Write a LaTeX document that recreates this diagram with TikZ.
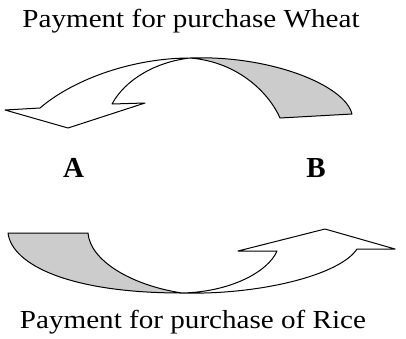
\documentclass[tikz,border=0pt]{standalone}
\usepackage{fontspec}
\setmainfont{Liberation Serif}
\newfontfamily\widefont[FakeStretch=1.12]{Liberation Serif}
\begin{document}
\begin{tikzpicture}[x=1pt,y=-1pt,
  ribbon/.style={draw=black,line width=1pt,line join=round},
  caption/.style={anchor=base,inner sep=0pt,font=\widefont\fontsize{26}{30}\selectfont},
  party/.style={anchor=base,inner sep=0pt,font=\bfseries\fontsize{29}{32}\selectfont}]
\useasboundingbox (0,0) rectangle (406,338);
% top arrow (B -> A)
\fill[gray!40] (190,58) .. controls (270,55) and (345,85) .. (352,114)
  -- (280,118) .. controls (270,95) and (240,62) .. (190,58) -- cycle;
\draw[ribbon] (190,58) .. controls (270,55) and (345,85) .. (352,114)
  -- (280,118) .. controls (270,95) and (240,62) .. (190,58)
  .. controls (155,62) and (125,80) .. (112,104)
  -- (145,103) -- (68,128) -- (5,110) -- (40,108)
  .. controls (75,78) and (135,58) .. (190,58);
% bottom arrow (A -> B)
\fill[gray!40] (8,233) -- (88,233) .. controls (90,260) and (130,285) .. (182,293)
  .. controls (70,293) and (12,265) .. (8,233) -- cycle;
\draw[ribbon] (8,233) -- (88,233) .. controls (90,260) and (130,285) .. (182,293)
  .. controls (230,292) and (268,272) .. (277,251)
  -- (238,251) -- (325,229) -- (395,249) -- (357,249)
  .. controls (340,275) and (260,295) .. (182,293)
  .. controls (70,293) and (12,265) .. (8,233) -- cycle;
% texts
\node[caption] (wheat) at (191,27) {Payment for purchase Wheat};
\node[caption] (rice) at (193,328) {Payment for purchase of Rice};
\node[party] (A) at (73.5,177) {A};
\node[party] (B) at (316,177) {B};
\end{tikzpicture}
\end{document}
